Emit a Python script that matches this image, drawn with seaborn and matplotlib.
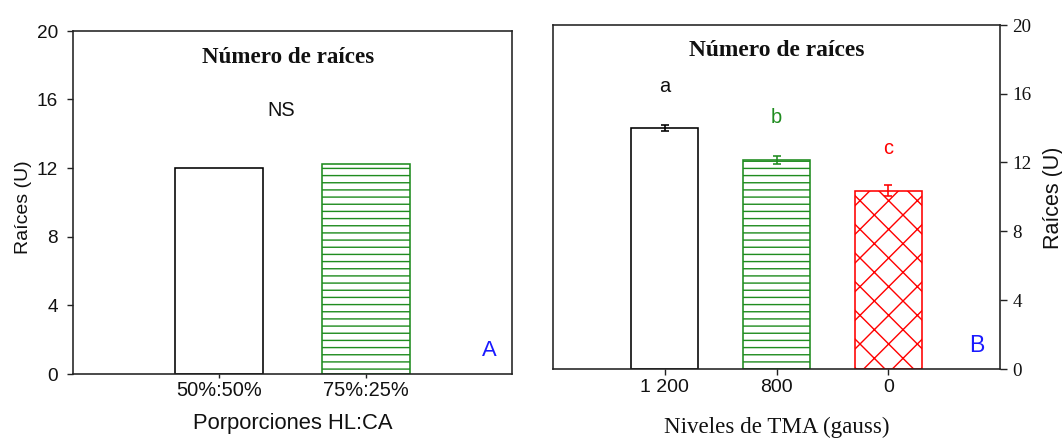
import numpy as np
import pandas as pd
import matplotlib
matplotlib.use("Agg")
import matplotlib.pyplot as plt
import seaborn as sns

# ---- data -------------------------------------------------------------
prop_labels = ["50%:50%", "75%:25%"]
prop_values = [12.0, 12.25]

tma_labels = ["1 200", "800", "0"]
tma_values = [14.0, 12.15, 10.35]
tma_errors = [0.18, 0.22, 0.32]
tma_letters = ["a", "b", "c"]

y_ticks = [0, 4, 8, 12, 16, 20]

# ---- style ------------------------------------------------------------
DPI = 86


def pt(px):
    """Convert a pixel size to points at the figure resolution."""
    return px * 72.0 / DPI


sns.set_theme(style="white")
SANS = ["Liberation Sans", "DejaVu Sans"]
SERIF = ["Liberation Serif", "DejaVu Serif"]
TEXT = "#111111"
plt.rcParams["font.family"] = SANS
plt.rcParams["hatch.linewidth"] = pt(1.4)
plt.rcParams["text.color"] = TEXT
plt.rcParams["axes.labelcolor"] = TEXT
plt.rcParams["xtick.color"] = TEXT
plt.rcParams["ytick.color"] = TEXT

GREEN = "#1f8c1f"
RED = "#ff0000"
BLUE = "#1a1aff"
SPINE = "#222222"

fig = plt.figure(figsize=(1062.3 / DPI, 441.3 / DPI), dpi=DPI)
axA = fig.add_axes([0.0687, 0.1519, 0.4134, 0.7778])
axB = fig.add_axes([0.5207, 0.1633, 0.4209, 0.7800])


def style_box(ax):
    for s in ax.spines.values():
        s.set_visible(True)
        s.set_color(SPINE)
        s.set_linewidth(pt(1.6))


# ---- panel A ----------------------------------------------------------
dfA = pd.DataFrame({"prop": prop_labels, "val": prop_values})
sns.barplot(data=dfA, x="prop", y="val", order=prop_labels, ax=axA,
            color="white", width=0.6, linewidth=pt(1.6), edgecolor="black",
            saturation=1)
for patch, ec, h in zip(axA.patches, ["black", GREEN], ["", "--"]):
    patch.set_facecolor("white")
    patch.set_edgecolor(ec)
    patch.set_hatch(h)

style_box(axA)
axA.set_xlim(-1, 2)
axA.set_ylim(0, 20)
axA.set_yticks(y_ticks)
axA.set_yticklabels([str(t) for t in y_ticks], fontsize=pt(19), family=SANS)
axA.set_xticks(range(len(prop_labels)))
axA.set_xticklabels(prop_labels, fontsize=pt(20), family=SANS)
axA.tick_params(axis="y", direction="out", length=pt(6), width=pt(1.4),
                color=SPINE, pad=pt(9), left=True)
axA.tick_params(axis="x", direction="out", length=pt(4), width=pt(1.4),
                color=SPINE, pad=pt(3), bottom=True)
axA.set_ylabel("Raíces (U)", fontsize=pt(19.5), family=SANS)
axA.set_xlabel("Porporciones HL:CA", fontsize=pt(22), family=SANS)
axA.yaxis.set_label_coords(-0.094, 0.487)
axA.xaxis.set_label_coords(0.5, -0.1125)

axA.text(0.489, 0.924, "Número de raíces", transform=axA.transAxes,
         ha="center", va="center", fontsize=pt(23), fontweight="bold",
         family=SERIF)
axA.text(0.474, 0.767, "NS", transform=axA.transAxes, ha="center",
         va="center", fontsize=pt(20), family=SANS)
axA.text(0.948, 0.07, "A", transform=axA.transAxes, ha="center",
         va="center", fontsize=pt(22), color=BLUE, family=SANS)

# ---- panel B ----------------------------------------------------------
dfB = pd.DataFrame({"tma": tma_labels, "val": tma_values})
sns.barplot(data=dfB, x="tma", y="val", order=tma_labels, ax=axB,
            color="white", width=0.6, linewidth=pt(1.6), edgecolor="black",
            saturation=1)
edge_cols = ["black", GREEN, RED]
for patch, ec, h in zip(axB.patches, edge_cols, ["", "--", "x"]):
    patch.set_facecolor("white")
    patch.set_edgecolor(ec)
    patch.set_hatch(h)

for i, (v, e, c, lab) in enumerate(zip(tma_values, tma_errors, edge_cols,
                                       tma_letters)):
    axB.errorbar(i, v, yerr=e, fmt="none", ecolor=c, elinewidth=pt(1.6),
                 capsize=pt(4.3), capthick=pt(1.6), zorder=5)
    axB.text(i, v + 2.45, lab, ha="center", va="center", fontsize=pt(20),
             color=c if c != "black" else TEXT, family=SANS)

style_box(axB)
axB.set_xlim(-1, 3)
axB.set_ylim(0, 20)
axB.yaxis.tick_right()
axB.yaxis.set_label_position("right")
axB.set_yticks(y_ticks)
axB.set_yticklabels([str(t) for t in y_ticks], fontsize=pt(19), family=SERIF)
axB.set_xticks(range(len(tma_labels)))
axB.set_xticklabels(tma_labels, fontsize=pt(19.5), family=SANS)
axB.tick_params(axis="y", direction="out", length=pt(7), width=pt(1.4),
                color=SPINE, pad=pt(5), right=True, left=False)
axB.tick_params(axis="x", direction="out", length=pt(6), width=pt(1.4),
                color=SPINE, pad=pt(3.5), bottom=True)
axB.set_ylabel("Raíces (U)", fontsize=pt(21.5), family=SANS)
axB.set_xlabel("Niveles de TMA (gauss)", fontsize=pt(23), family=SERIF)
axB.yaxis.set_label_coords(1.096, 0.497)
axB.xaxis.set_label_coords(0.5, -0.138)

axB.text(0.499, 0.927, "Número de raíces", transform=axB.transAxes,
         ha="center", va="center", fontsize=pt(23.5), fontweight="bold",
         family=SERIF)
axB.text(0.948, 0.07, "B", transform=axB.transAxes, ha="center",
         va="center", fontsize=pt(23), color=BLUE, family=SANS)

fig.savefig("out.png", dpi=DPI, facecolor="white")
